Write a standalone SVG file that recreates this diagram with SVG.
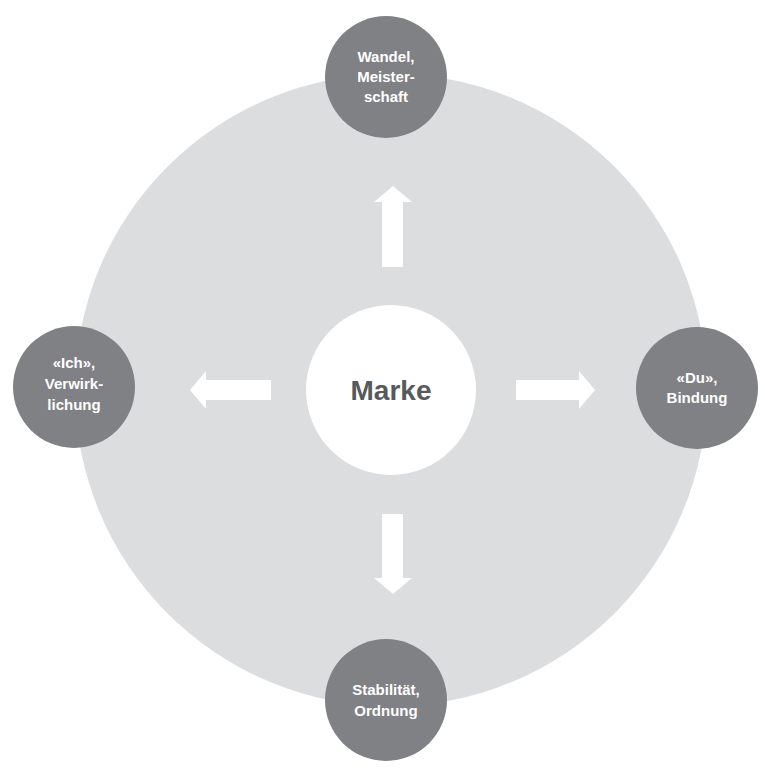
<svg xmlns="http://www.w3.org/2000/svg" width="765" height="770" viewBox="0 0 765 770">
  <style>
    .ring { fill: #dcdddf; }
    .node { fill: #808184; }
    .core { fill: #ffffff; }
    .arrow { fill: #ffffff; }
    .label { font-family: "Liberation Sans", Arial, sans-serif; font-weight: bold; font-size: 15px; fill: #ffffff; text-anchor: middle; }
    .title { font-family: "Liberation Sans", Arial, sans-serif; font-weight: bold; font-size: 28px; fill: #58595b; text-anchor: middle; }
  </style>
  <rect width="765" height="770" fill="#ffffff"/>

  <!-- background disc -->
  <circle class="ring" cx="391" cy="390" r="316"/>

  <!-- arrows pointing outward from the centre -->
  <g id="connectors">
    <polygon class="arrow" points="382,267 382,202 374,202 393,186 412,202 403,202 403,267"/>
    <polygon class="arrow" points="382,514 382,578 374,578 393,594 412,578 403,578 403,514"/>
    <polygon class="arrow" points="271,380 206,380 206,371 190,390 206,409 206,400 271,400"/>
    <polygon class="arrow" points="516,380 579,380 579,371 595,390 579,409 579,400 516,400"/>
  </g>

  <g id="node-marke">
    <circle class="core" cx="391" cy="390" r="85"/>
    <text class="title" x="391" y="400">Marke</text>
  </g>

  <g id="node-wandel">
    <circle class="node" cx="386" cy="77" r="61"/>
    <text class="label" x="386" y="62">Wandel,</text>
    <text class="label" x="386" y="82">Meister-</text>
    <text class="label" x="386" y="102">schaft</text>
  </g>

  <g id="node-ich">
    <circle class="node" cx="74" cy="387" r="61"/>
    <text class="label" x="74" y="368">«Ich»,</text>
    <text class="label" x="74" y="389">Verwirk-</text>
    <text class="label" x="74" y="410">lichung</text>
  </g>

  <g id="node-du">
    <circle class="node" cx="697" cy="388" r="61"/>
    <text class="label" x="697" y="383">«Du»,</text>
    <text class="label" x="697" y="403">Bindung</text>
  </g>

  <g id="node-stabilitaet">
    <circle class="node" cx="386" cy="700" r="61"/>
    <text class="label" x="386" y="695">Stabilität,</text>
    <text class="label" x="386" y="716">Ordnung</text>
  </g>
</svg>
